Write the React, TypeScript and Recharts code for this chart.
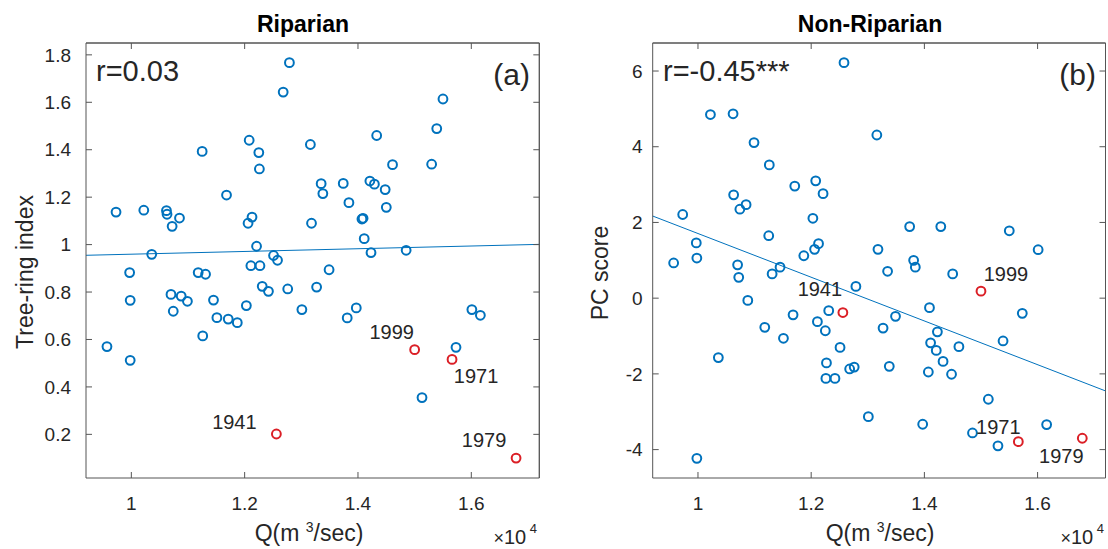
import { ReferenceLine, Scatter, ScatterChart, XAxis, YAxis } from "recharts";

// discharge Q, in units of 10^4 m3/s (same years in both panels)
const Q = [
  0.957, 0.973, 0.997, 0.998, 0.998, 1.022, 1.036, 1.062, 1.063, 1.07,
  1.072, 1.074, 1.085, 1.088, 1.099, 1.118, 1.125, 1.126, 1.131, 1.145,
  1.151, 1.168, 1.171, 1.187, 1.203, 1.206, 1.208, 1.211, 1.213, 1.221,
  1.225, 1.226, 1.227, 1.231, 1.242, 1.251, 1.258, 1.268, 1.276, 1.279,
  1.301, 1.316, 1.318, 1.327, 1.335, 1.338, 1.349, 1.374, 1.381, 1.384,
  1.397, 1.407, 1.409, 1.411, 1.421, 1.423, 1.429, 1.433, 1.448, 1.45,
  1.461, 1.485, 1.513, 1.53, 1.539, 1.55, 1.573, 1.601, 1.616,
];
const TREE_RING = [
  0.57, 1.137, 0.882, 0.765, 0.512, 1.145, 0.959, 1.143, 1.128, 0.79,
  1.077, 0.719, 1.112, 0.783, 0.761, 0.882, 1.393, 0.615, 0.875, 0.766,
  0.692, 1.209, 0.686, 0.671, 0.743, 1.09, 1.44, 0.911, 1.116, 0.993,
  1.388, 1.319, 0.911, 0.824, 0.803, 0.954, 0.934, 1.643, 0.813, 1.767,
  0.726, 1.422, 1.09, 0.821, 1.257, 1.215, 0.894, 1.258, 0.691, 1.177,
  0.733, 1.108, 1.111, 1.025, 1.268, 0.966, 1.255, 1.46, 1.232, 1.157,
  1.337, 0.976, 0.355, 1.339, 1.489, 1.614, 0.567, 0.726, 0.702,
];
const PC_SCORE = [
  0.93, 2.21, 1.46, 1.06, -4.23, 4.85, -1.57, 4.87, 2.73, 0.88,
  0.55, 2.35, 2.47, -0.06, 4.11, -0.77, 1.65, 3.52, 0.64, 0.82,
  -1.06, -0.44, 2.96, 1.12, 2.11, 1.29, 3.1, -0.62, 1.44, 2.76,
  -0.86, -2.12, -1.71, -0.33, -2.12, -1.3, 6.22, -1.87, -1.82, 0.31,
  -3.13, 4.31, 1.29, -0.79, 0.71, -1.8, -0.48, 1.89, 1.0, 0.82,
  -3.33, -1.95, -0.25, -1.18, -1.38, -0.89, 1.89, -1.67, -2.01, 0.64,
  -1.28, -3.56, -2.67, -3.9, -1.13, 1.78, -0.4, 1.28, -3.34,
];

// highlighted years
const YEARS_MARKED = [1941, 1999, 1971, 1979];
const Q_MARKED = [1.256, 1.5, 1.566, 1.679];
const TREE_RING_MARKED = [0.2015, 0.557, 0.516, 0.1];
const PC_MARKED = [-0.38, 0.185, -3.79, -3.7];

// least-squares lines, value at both ends of the x range
const FIT_Q = [0.92, 1.72];
const FIT_TREE_RING = [0.955, 1.001];
const FIT_PC = [2.17, -2.45];

const Q_DOMAIN = [0.92, 1.72];
const Q_TICKS = [1, 1.2, 1.4, 1.6];
const TREE_DOMAIN = [0.016, 1.85];
const TREE_TICKS = [0.2, 0.4, 0.6, 0.8, 1, 1.2, 1.4, 1.6, 1.8];
const PC_DOMAIN = [-4.75, 6.74];
const PC_TICKS = [-4, -2, 0, 2, 4, 6];

const FONT = '"Liberation Sans", Arial, Helvetica, sans-serif';
const INK = "#262626";
const AXIS = "#555555";
const BLUE = "#0072BD";
const RED = "#DB1F26";

// where each year label sits relative to its marker (text centre, px)
const LEFT_LABEL_OFFSET: Record<number, [number, number]> = {
  1941: [-42, -12],
  1999: [-23, -18],
  1971: [24, 16],
  1979: [-32, -18],
};
const RIGHT_LABEL_OFFSET: Record<number, [number, number]> = {
  1941: [-23, -24],
  1999: [25, -17],
  1971: [-20, -15],
  1979: [-21, 18],
};

type PanelProps = {
  left: number;
  width: number;
  marginLeft: number;
  marginRight: number;
  yDomain: number[];
  yTicks: number[];
  yTickMargin: number;
  values: number[];
  marked: number[];
  fit: number[];
  labelOffset: Record<number, [number, number]>;
};

const blank = () => "";

function Panel(props: PanelProps) {
  const points = Q.map((q, i) => ({ q, v: props.values[i] }));
  const markedPoints = YEARS_MARKED.map((year, i) => ({ q: Q_MARKED[i], v: props.marked[i], year }));
  const tick = { fill: INK, fontSize: 19, fontFamily: FONT };

  return (
    <div style={{ position: "absolute", left: props.left, top: 0 }}>
      <ScatterChart
        width={props.width}
        height={549}
        margin={{ top: 41, right: props.marginRight, bottom: 31, left: props.marginLeft }}
      >
        <XAxis
          xAxisId="b"
          dataKey="q"
          type="number"
          domain={Q_DOMAIN}
          ticks={Q_TICKS}
          allowDataOverflow
          height={40}
          tickSize={-6}
          tickMargin={25}
          stroke={AXIS}
          tick={tick}
        />
        {/* top and right axes only close the box, with inner ticks */}
        <XAxis
          xAxisId="t"
          orientation="top"
          dataKey="q"
          type="number"
          domain={Q_DOMAIN}
          ticks={Q_TICKS}
          allowDataOverflow
          height={2}
          tickSize={-6}
          tickFormatter={blank}
          stroke={AXIS}
        />
        <YAxis
          yAxisId="l"
          dataKey="v"
          type="number"
          domain={props.yDomain}
          ticks={props.yTicks}
          allowDataOverflow
          width={60}
          tickSize={-6}
          tickMargin={props.yTickMargin}
          stroke={AXIS}
          tick={tick}
        />
        <YAxis
          yAxisId="r"
          orientation="right"
          dataKey="v"
          type="number"
          domain={props.yDomain}
          ticks={props.yTicks}
          allowDataOverflow
          width={2}
          tickSize={-6}
          tickFormatter={blank}
          stroke={AXIS}
        />
        <ReferenceLine xAxisId="b" yAxisId="l" y={props.yDomain[1]} stroke={AXIS} ifOverflow="visible" />
        <ReferenceLine xAxisId="b" yAxisId="l" x={Q_DOMAIN[1]} stroke={AXIS} ifOverflow="visible" />
        <ReferenceLine
          xAxisId="b"
          yAxisId="l"
          segment={[
            { x: FIT_Q[0], y: props.fit[0] },
            { x: FIT_Q[1], y: props.fit[1] },
          ]}
          stroke={BLUE}
          strokeWidth={1}
          ifOverflow="visible"
        />
        <Scatter
          xAxisId="t"
          yAxisId="r"
          data={points}
          isAnimationActive={false}
          shape={() => <g />}
        />
        <Scatter
          xAxisId="b"
          yAxisId="l"
          data={points}
          isAnimationActive={false}
          shape={(p: any) => <circle cx={p.cx} cy={p.cy} r={4.4} fill="none" stroke={BLUE} strokeWidth={2} />}
        />
        <Scatter
          xAxisId="b"
          yAxisId="l"
          data={markedPoints}
          isAnimationActive={false}
          shape={(p: any) => {
            const [dx, dy] = props.labelOffset[p.payload.year];
            return (
              <g>
                <circle cx={p.cx} cy={p.cy} r={4.4} fill="none" stroke={RED} strokeWidth={2} />
                <text
                  x={p.cx + dx}
                  y={p.cy + dy}
                  dy="0.36em"
                  textAnchor="middle"
                  fontSize={20}
                  fontFamily={FONT}
                  fill={INK}
                >
                  {p.payload.year}
                </text>
              </g>
            );
          }}
        />
      </ScatterChart>
    </div>
  );
}

function XLabel({ cx, y }: { cx: number; y: number }) {
  return (
    <text x={cx} y={y} textAnchor="middle" fontSize={23} fill={INK}>
      Q(m{" "}
      <tspan fontSize={14} dy={-9}>
        3
      </tspan>
      <tspan dy={9}>/sec)</tspan>
    </text>
  );
}

function Exponent({ right, y }: { right: number; y: number }) {
  return (
    <text x={right} y={y} textAnchor="end" fill={INK}>
      <tspan fontSize={18}>×</tspan>
      <tspan fontSize={20}>10</tspan>
      <tspan fontSize={13} dy={-11}>
        {" "}4
      </tspan>
    </text>
  );
}

export default function App() {
  return (
    <div style={{ position: "absolute", left: 0, top: 0, width: 1108, height: 549, background: "#fff" }}>
      <Panel
        left={0}
        width={560}
        marginLeft={26}
        marginRight={18.7}
        yDomain={TREE_DOMAIN}
        yTicks={TREE_TICKS}
        yTickMargin={21}
        values={TREE_RING}
        marked={TREE_RING_MARKED}
        fit={FIT_TREE_RING}
        labelOffset={LEFT_LABEL_OFFSET}
      />
      <Panel
        left={560}
        width={548}
        marginLeft={32.7}
        marginRight={0.5}
        yDomain={PC_DOMAIN}
        yTicks={PC_TICKS}
        yTickMargin={16}
        values={PC_SCORE}
        marked={PC_MARKED}
        fit={FIT_PC}
        labelOffset={RIGHT_LABEL_OFFSET}
      />
      <svg
        width={1108}
        height={549}
        style={{ position: "absolute", left: 0, top: 0, pointerEvents: "none" }}
        fontFamily={FONT}
      >
        <text x={303} y={31.5} textAnchor="middle" fontSize={23} fontWeight="bold" fill="#000">
          Riparian
        </text>
        <text x={870} y={31.5} textAnchor="middle" fontSize={23} fontWeight="bold" fill="#000">
          Non-Riparian
        </text>
        <text x={96} y={80.5} fontSize={29} fill={INK}>
          r=0.03
        </text>
        <text x={663} y={80.5} fontSize={29} fill={INK}>
          r=-0.45***
        </text>
        <text x={530} y={85} textAnchor="end" fontSize={30} fill={INK}>
          (a)
        </text>
        <text x={1096} y={85} textAnchor="end" fontSize={30} fill={INK}>
          (b)
        </text>
        <text x={33} y={272} transform="rotate(-90 33 272)" textAnchor="middle" fontSize={23} fill={INK}>
          Tree-ring index
        </text>
        <text x={608} y={273} transform="rotate(-90 608 273)" textAnchor="middle" fontSize={23} fill={INK}>
          PC score
        </text>
        <XLabel cx={309} y={541} />
        <XLabel cx={880} y={541} />
        <Exponent right={537} y={544} />
        <Exponent right={1104} y={544} />
      </svg>
    </div>
  );
}
